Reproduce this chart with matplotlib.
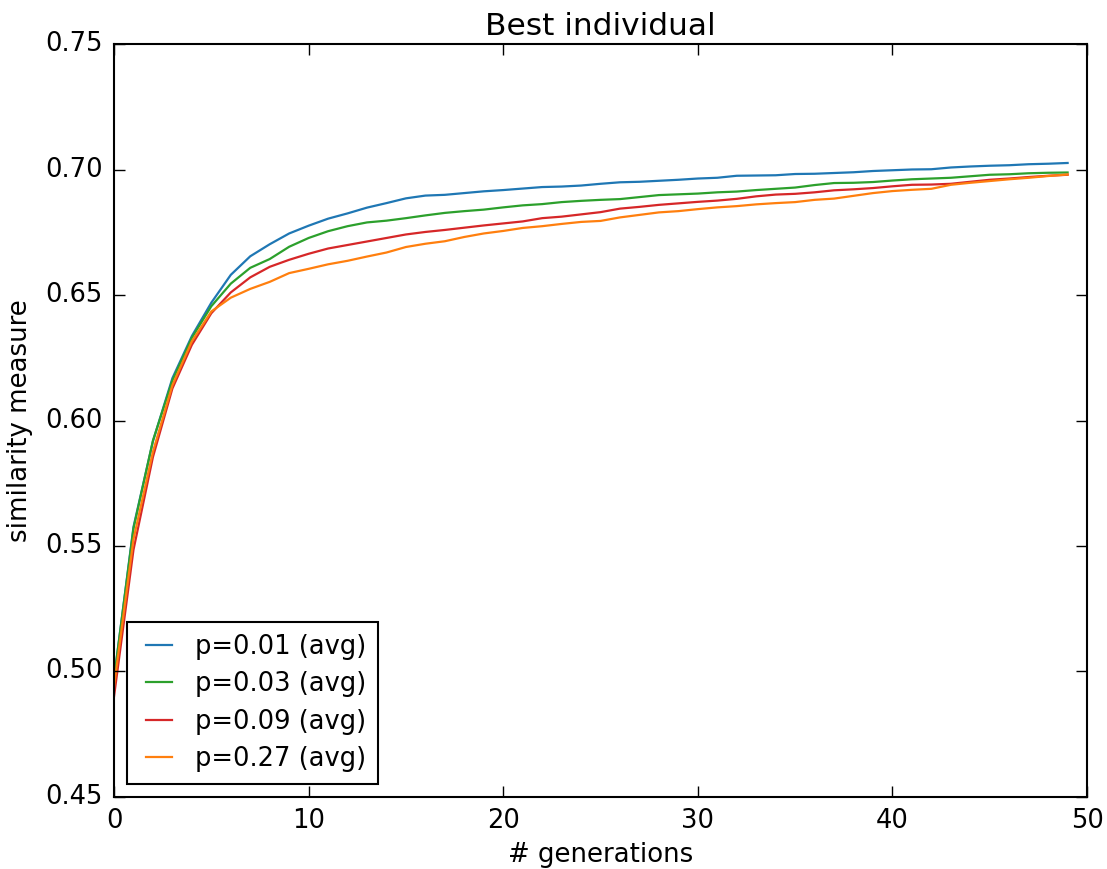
import matplotlib
matplotlib.use("Agg")
import matplotlib.pyplot as plt
import numpy as np

plt.style.use("classic")
plt.rcParams["font.family"] = ["DejaVu Sans"]

generations = list(range(50))

p001 = [0.497, 0.5576, 0.5918, 0.6169, 0.6337, 0.6470, 0.6581, 0.6655, 0.6703, 0.6746,
        0.6777, 0.6805, 0.6826, 0.6849, 0.6867, 0.6886, 0.6897, 0.6900, 0.6907, 0.6914,
        0.6919, 0.6925, 0.6931, 0.6933, 0.6937, 0.6944, 0.6950, 0.6952, 0.6956, 0.6960,
        0.6965, 0.6968, 0.6976, 0.6977, 0.6978, 0.6983, 0.6984, 0.6987, 0.6990, 0.6995,
        0.6998, 0.7001, 0.7002, 0.7009, 0.7013, 0.7016, 0.7018, 0.7022, 0.7024, 0.7027]

p003 = [0.497, 0.557, 0.592, 0.616, 0.633, 0.6456, 0.6546, 0.6609, 0.6644, 0.6693,
        0.6728, 0.6755, 0.6775, 0.6790, 0.6797, 0.6807, 0.6818, 0.6828, 0.6835, 0.6841,
        0.6850, 0.6858, 0.6863, 0.6871, 0.6876, 0.6880, 0.6883, 0.6891, 0.6899, 0.6902,
        0.6905, 0.6910, 0.6913, 0.6919, 0.6924, 0.6929, 0.6939, 0.6947, 0.6948, 0.6951,
        0.6957, 0.6962, 0.6965, 0.6968, 0.6974, 0.6980, 0.6982, 0.6986, 0.6988, 0.6989]

p009 = [0.490, 0.5485, 0.5855, 0.6128, 0.6302, 0.6428, 0.6511, 0.6571, 0.6613, 0.6641,
        0.6665, 0.6686, 0.6700, 0.6714, 0.6728, 0.6742, 0.6752, 0.6760, 0.6769, 0.6778,
        0.6786, 0.6794, 0.6807, 0.6813, 0.6822, 0.6831, 0.6845, 0.6852, 0.6860, 0.6866,
        0.6872, 0.6877, 0.6884, 0.6894, 0.6901, 0.6904, 0.6910, 0.6918, 0.6922, 0.6927,
        0.6934, 0.6940, 0.6941, 0.6944, 0.6952, 0.6960, 0.6965, 0.6971, 0.6976, 0.6980]

p027 = [0.494, 0.5527, 0.5876, 0.6141, 0.6316, 0.6435, 0.6490, 0.6525, 0.6553, 0.6588,
        0.6605, 0.6623, 0.6637, 0.6654, 0.6670, 0.6692, 0.6705, 0.6715, 0.6732, 0.6746,
        0.6756, 0.6768, 0.6775, 0.6784, 0.6792, 0.6796, 0.6810, 0.6820, 0.6830, 0.6835,
        0.6843, 0.6850, 0.6855, 0.6862, 0.6867, 0.6871, 0.6880, 0.6885, 0.6896, 0.6907,
        0.6915, 0.6920, 0.6924, 0.6940, 0.6948, 0.6955, 0.6962, 0.6968, 0.6975, 0.6981]

series = [
    ("p=0.01 (avg)", p001, "#1f77b4"),
    ("p=0.03 (avg)", p003, "#2ca02c"),
    ("p=0.09 (avg)", p009, "#d62728"),
    ("p=0.27 (avg)", p027, "#ff7f0e"),
]

fig = plt.figure(figsize=(11.07, 8.69), dpi=100, facecolor="white")
ax = fig.add_axes([0.103, 0.083, 0.879, 0.866])

for label, vals, color in series:
    ax.plot(generations, vals, color=color, lw=1.6, label=label)

ax.set_xlim(0, 50)
ax.set_ylim(0.45, 0.75)
ax.set_xticks([0, 10, 20, 30, 40, 50])
ax.set_yticks([0.45, 0.50, 0.55, 0.60, 0.65, 0.70, 0.75])
ax.yaxis.set_major_formatter(matplotlib.ticker.FormatStrFormatter("%.2f"))
ax.tick_params(labelsize=18.5, length=8, width=1, direction="in", pad=8)
for s in ax.spines.values():
    s.set_linewidth(1.5)

ax.set_xlabel("# generations", fontsize=18.7, labelpad=6)
ax.set_ylabel("similarity measure", fontsize=18.7, labelpad=9)
ax.set_title("Best individual", fontsize=22.5, pad=7)

leg = ax.legend(loc="lower left", fontsize=18.5, frameon=True, fancybox=False,
                handlelength=1.6, handletextpad=0.6, borderpad=0.45,
                labelspacing=0.45, borderaxespad=0.5)
leg.get_frame().set_edgecolor("black")
leg.get_frame().set_linewidth(1.5)

fig.savefig("out.png", dpi=100, facecolor="white")
